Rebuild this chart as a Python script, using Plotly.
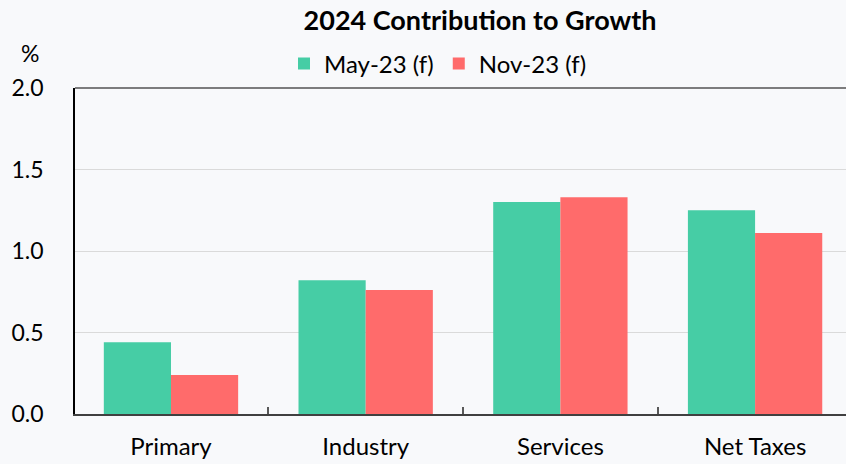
import plotly.graph_objects as go

categories = ["Primary", "Industry", "Services", "Net Taxes"]
may23 = [0.44, 0.82, 1.30, 1.25]
nov23 = [0.24, 0.76, 1.33, 1.11]
series_names = ["May-23 (f)", "Nov-23 (f)"]
y_ticks = [0.0, 0.5, 1.0, 1.5, 2.0]
y_tick_labels = ["0.0", "0.5", "1.0", "1.5", "2.0"]

GREEN = "#46CDA5"
RED = "#FF6B6B"
BG = "#F8F9FB"
FONT = "Lato"

fig = go.Figure()
fig.add_trace(go.Bar(x=categories, y=may23, name=series_names[0], marker=dict(color=GREEN, line=dict(width=0))))
fig.add_trace(go.Bar(x=categories, y=nov23, name=series_names[1], marker=dict(color=RED, line=dict(width=0))))

fig.update_layout(
    width=846, height=464,
    margin=dict(l=75, r=0, t=88, b=50, autoexpand=False),
    paper_bgcolor=BG, plot_bgcolor=BG,
    barmode="group", bargap=0.31, bargroupgap=0,
    font=dict(family=FONT, color="#000000", size=22),
    title=dict(text="<b>2024 Contribution to Growth</b>", x=480/846, xanchor="center",
               y=1-21/464, yanchor="middle", font=dict(family=FONT, size=27, color="#000"),
               automargin=False),
    legend=dict(orientation="h", xref="container", x=438/846, xanchor="center",
                yref="container", y=1-64/464, yanchor="middle",
                font=dict(family=FONT, size=24), bgcolor="rgba(0,0,0,0)",
                traceorder="normal"),
    showlegend=True,
)
fig.update_xaxes(
    range=[-0.493, 3.467], showline=True, linecolor="#404040", linewidth=2, mirror=False,
    ticks="inside", tickson="boundaries", ticklen=7, tickcolor="#595959", tickwidth=1.5,
    showgrid=False, tickfont=dict(family=FONT, size=24), ticklabelstandoff=10, automargin=False,
)
fig.update_yaxes(
    range=[0, 2], tickvals=y_ticks, ticktext=y_tick_labels, showline=True, linecolor="#000000",
    linewidth=1.5, showgrid=True, gridcolor="#DADADA", gridwidth=1, zeroline=False,
    ticks="", tickfont=dict(family=FONT, size=23), ticklabelstandoff=25, automargin=False,
)
# top border of the plot area
fig.add_shape(type="line", xref="paper", yref="paper", x0=0, x1=1, y0=1, y1=1,
              line=dict(color="#000000", width=1.2))
fig.add_annotation(text="%", xref="paper", yref="paper", x=-(75-30)/771, y=1+(88-53)/326,
                   showarrow=False, xanchor="center", yanchor="middle",
                   font=dict(family=FONT, size=23, color="#000"))

fig.write_html("out.html", config={"displayModeBar": False},
               post_script="document.body.style.margin='0';document.body.style.overflow='hidden';document.body.style.background='%s';" % BG)
